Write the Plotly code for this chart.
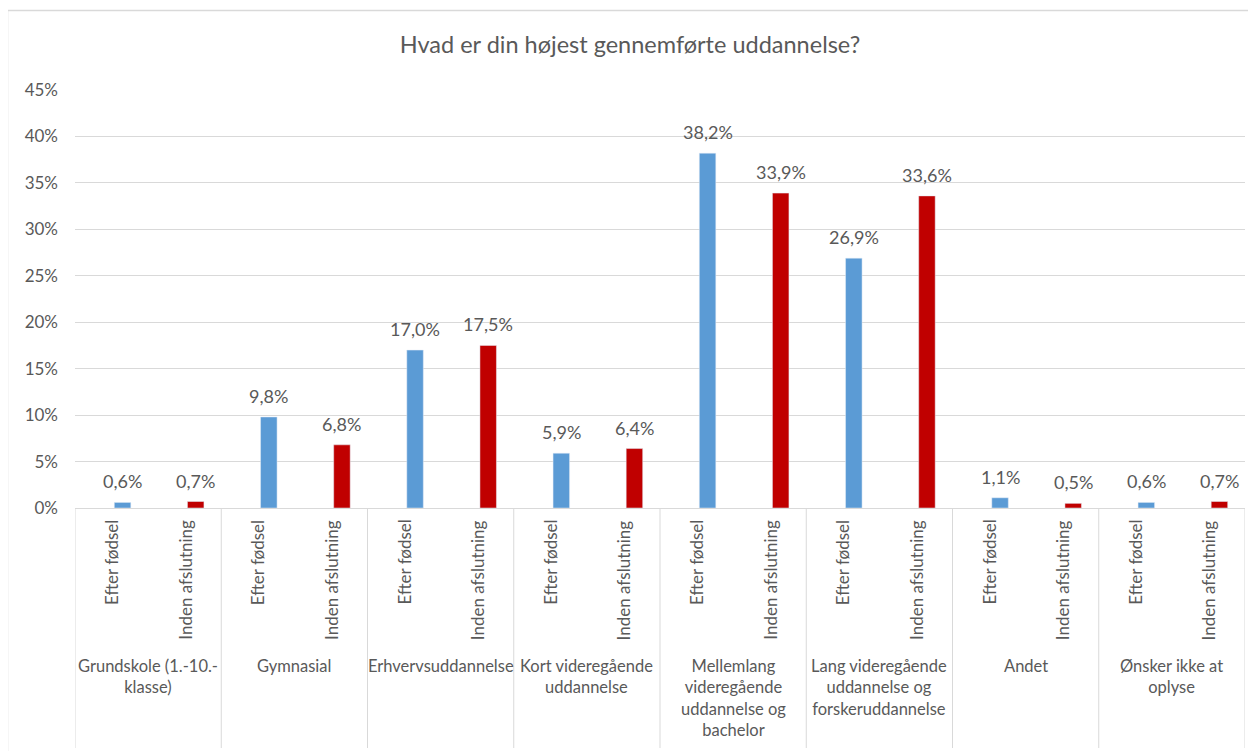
import plotly.graph_objects as go

groups = [
    "Grundskole (1.-10.-<br>klasse)",
    "Gymnasial",
    "Erhvervsuddannelse",
    "Kort videregående<br>uddannelse",
    "Mellemlang<br>videregående<br>uddannelse og<br>bachelor",
    "Lang videregående<br>uddannelse og<br>forskeruddannelse",
    "Andet",
    "Ønsker ikke at<br>oplyse",
]
sub_labels = ["Efter fødsel", "Inden afslutning"]
efter_fodsel = [0.6, 9.8, 17.0, 5.9, 38.2, 26.9, 1.1, 0.6]
inden_afslutning = [0.7, 6.8, 17.5, 6.4, 33.9, 33.6, 0.5, 0.7]
y_ticks = [0, 5, 10, 15, 20, 25, 30, 35, 40, 45]
y_tick_text = ["0%", "5%", "10%", "15%", "20%", "25%", "30%", "35%", "40%", "45%"]
title = "Hvad er din højest gennemførte uddannelse?"

FONT = "Lato"
GRAY = "#595959"
LINE = "#D9D9D9"
BLUE = "#5B9BD5"
RED = "#C00000"

OFF = 8  # page body margin
W, H = 1256 - OFF, 751 - OFF
# plot area in reference pixel coords
PL, PR, PT, PB = 75, 1245, 90, 508
L, T = PL - OFF, PT - OFF
R, B = W - (PR - OFF), H - (PB - OFF)
plot_w = PR - PL
plot_h = PB - PT

n = len(groups)
slot_px = plot_w / (2 * n)
bar_w = 16.5 / slot_px
shift = 11 / slot_px

x_blue = [2 * i for i in range(n)]
x_red = [2 * i + 1 for i in range(n)]

fig = go.Figure()
fig.add_trace(go.Bar(x=x_blue, y=efter_fodsel, marker_color=BLUE, width=bar_w,
                     offset=shift - bar_w / 2, name=sub_labels[0], showlegend=False))
fig.add_trace(go.Bar(x=x_red, y=inden_afslutning, marker_color=RED, width=bar_w,
                     offset=shift - bar_w / 2, name=sub_labels[1], showlegend=False))

def fmt(v):
    return f"{v:.1f}".replace(".", ",") + "%"

annotations = []
for xs, vals in ((x_blue, efter_fodsel), (x_red, inden_afslutning)):
    for x, v in zip(xs, vals):
        annotations.append(dict(x=x + shift, y=v, xref="x", yref="y", text=fmt(v),
                                showarrow=False, yanchor="bottom", yshift=8,
                                font=dict(family=FONT, size=18, color=GRAY)))

for i in range(n):
    for j, lab in enumerate(sub_labels):
        annotations.append(dict(x=2 * i + j, y=0, xref="x", yref="paper", text=lab,
                                showarrow=False, textangle=-90, yanchor="top", yshift=-10,
                                font=dict(family=FONT, size=17, color=GRAY)))
    annotations.append(dict(x=2 * i + 0.5, y=0, xref="x", yref="paper", text=groups[i],
                            showarrow=False, yanchor="top", yshift=-146, align="center",
                            font=dict(family=FONT, size=16.5, color=GRAY)))

px_x = lambda p: (p - PL) / plot_w
px_y = lambda p: (PB - p) / plot_h

shapes = []
for g in range(n + 1):
    shapes.append(dict(type="line", xref="x", yref="paper", x0=2 * g - 0.5, x1=2 * g - 0.5,
                       y0=0, y1=px_y(748), line=dict(color=LINE, width=1)))

shapes.append(dict(type="line", xref="paper", yref="paper", x0=px_x(7.5), x1=px_x(7.5),
                   y0=px_y(10.5), y1=px_y(770), line=dict(color=LINE, width=1.5)))
shapes.append(dict(type="line", xref="paper", yref="paper", x0=px_x(7.5), x1=px_x(1270),
                   y0=px_y(10.5), y1=px_y(10.5), line=dict(color=LINE, width=1.5)))

fig.update_layout(
    width=W, height=H,
    margin=dict(l=L, r=R, t=T, b=B, autoexpand=False),
    paper_bgcolor="white", plot_bgcolor="white",
    barmode="overlay",
    title=dict(text=title, x=(630 - OFF) / W, xref="container", xanchor="center",
               y=1 - (45 - OFF) / H, yref="container", yanchor="middle",
               font=dict(family=FONT, size=23.5, color=GRAY)),
    xaxis=dict(range=[-0.5, 2 * n - 0.5], showticklabels=False, showgrid=False,
               zeroline=False, showline=True, linecolor=LINE, linewidth=1, fixedrange=True),
    yaxis=dict(range=[0, 45], tickmode="array", tickvals=y_ticks, ticktext=y_tick_text,
               showgrid=True, gridcolor=LINE, gridwidth=1, zeroline=False, showline=False,
               ticklabelstandoff=16,
               tickfont=dict(family=FONT, size=17, color=GRAY)),
    annotations=annotations,
    shapes=shapes,
    font=dict(family=FONT, color=GRAY),
)

fig.write_html("out.html")
